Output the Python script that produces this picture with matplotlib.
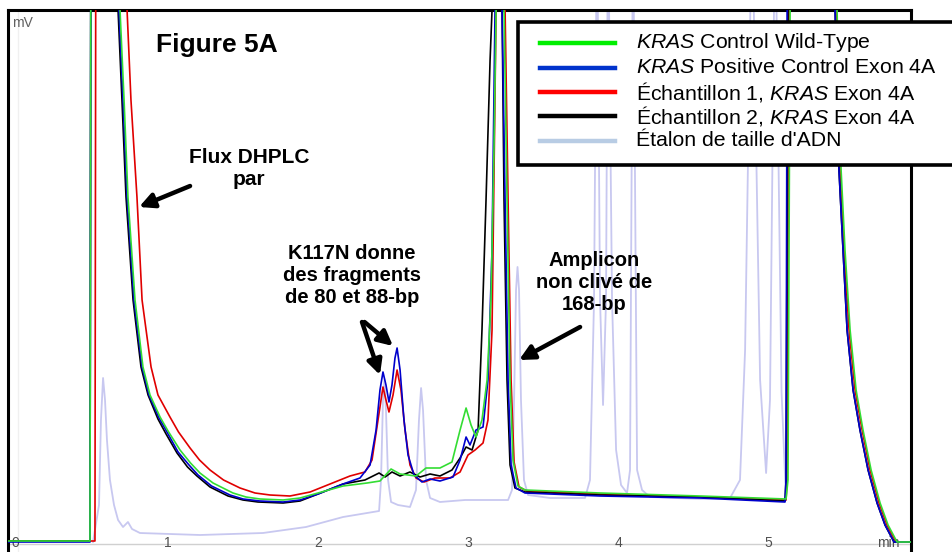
import matplotlib
matplotlib.use("Agg")
import matplotlib.pyplot as plt
from matplotlib.lines import Line2D
from matplotlib.patches import Rectangle

plt.rcParams["font.family"] = ["Liberation Sans", "DejaVu Sans"]
plt.rcParams["mathtext.fontset"] = "custom"
plt.rcParams["mathtext.it"] = "Liberation Sans:italic"
plt.rcParams["mathtext.rm"] = "Liberation Sans"

# retention time (min) and signal (mV)
green_t = [-0.07, 0.48, 0.487, 0.68, 0.707, 0.733, 0.78, 0.833, 0.88, 0.947, 1.0, 1.08, 1.15, 1.213,
           1.3, 1.433, 1.52, 1.613, 1.767, 1.88, 2.0, 2.167, 2.327, 2.413, 2.487, 2.547, 2.653, 2.72,
           2.813, 2.893, 2.947, 2.987, 3.02, 3.053, 3.093, 3.127, 3.153, 3.173, 3.187, 3.207, 3.24,
           3.26, 3.28, 3.3, 3.333, 3.38, 3.88, 4.547, 5.12, 5.133, 5.147, 5.3, 5.46, 5.487, 5.513,
           5.547, 5.587, 5.633, 5.687, 5.747, 5.8, 5.86, 5.96]
green_mv = [0.2, 0.2, 150, 106.4, 88.4, 69.0, 48.4, 35.0, 29.4, 25.0, 22.2, 18.4, 15.8, 13.8,
            11.8, 9.8, 9.0, 8.6, 8.4, 8.8, 9.8, 11.2, 11.8, 12.2, 14.6, 13.6, 13.2, 14.8,
            14.8, 16.0, 22.4, 26.8, 23.4, 21.0, 24.4, 32.4, 48.4, 78.4, 106.4, 128, 106.4,
            68.4, 32.4, 16.4, 11.2, 10.4, 9.8, 9.2, 8.6, 12.4, 106.4, 130, 106.4, 74.4, 58.4,
            42.4, 30.4, 22.4, 14.4, 7.8, 3.4, 0.0, 0.0]

blue_t = [-0.07, 0.48, 0.487, 0.673, 0.7, 0.727, 0.773, 0.827, 0.873, 0.94, 0.993, 1.067, 1.14, 1.2,
          1.29, 1.413, 1.5, 1.613, 1.767, 1.88, 2.0, 2.167, 2.28, 2.347, 2.387, 2.413, 2.433, 2.453,
          2.473, 2.493, 2.513, 2.527, 2.547, 2.573, 2.6, 2.64, 2.693, 2.747, 2.813, 2.9, 2.947,
          2.987, 3.013, 3.053, 3.1, 3.133, 3.16, 3.18, 3.207, 3.227, 3.247, 3.267, 3.287, 3.32,
          3.38, 3.88, 4.547, 5.113, 5.12, 5.127, 5.3, 5.447, 5.473, 5.5, 5.527, 5.567, 5.613,
          5.667, 5.727, 5.78, 5.84, 5.96]
blue_mv = [0.0, 0.0, 150, 106.4, 88.4, 69.0, 48.4, 35.0, 29.4, 24.8, 22.0, 18.0, 15.4, 13.4,
           11.2, 9.4, 8.6, 8.2, 8.0, 8.4, 9.6, 11.6, 12.8, 15.4, 22.4, 30.4, 34.0, 31.4,
           28.0, 31.4, 36.8, 38.8, 34.4, 24.4, 17.4, 13.4, 12.0, 12.6, 12.2, 13.0, 16.4,
           21.0, 19.4, 22.4, 23.0, 32.4, 58.4, 106.4, 128, 106.4, 68.4, 32.4, 15.4, 10.8,
           9.8, 9.2, 8.8, 8.0, 12.4, 106.4, 130, 106.4, 74.4, 58.4, 42.4, 30.4, 22.4,
           14.4, 7.8, 3.4, 0.0, 0.0]

red_t = [-0.07, 0.513, 0.52, 0.727, 0.753, 0.793, 0.827, 0.887, 0.933, 1.013, 1.07, 1.147, 1.21,
         1.28, 1.37, 1.48, 1.58, 1.68, 1.813, 1.947, 2.08, 2.213, 2.313, 2.36, 2.4, 2.433, 2.453,
         2.473, 2.5, 2.527, 2.553, 2.58, 2.613, 2.653, 2.707, 2.78, 2.88, 2.947, 3.0, 3.047, 3.1,
         3.133, 3.16, 3.187, 3.213, 3.247, 3.267, 3.287, 3.307, 3.34, 3.393, 3.88, 4.547, 5.12,
         5.127, 5.14, 5.3, 5.453, 5.48, 5.507, 5.54, 5.58, 5.627, 5.68, 5.74, 5.793, 5.853, 5.96]
red_mv = [0.2, 0.2, 150, 106.4, 88.4, 69.0, 48.4, 35.0, 29.4, 25.0, 22.0, 18.8, 16.4,
          14.4, 12.4, 10.8, 9.8, 9.4, 9.2, 10.0, 11.6, 13.2, 14.0, 16.4, 24.4, 31.0, 28.4,
          26.0, 29.4, 34.4, 30.4, 22.4, 15.4, 12.8, 12.0, 12.8, 12.8, 14.0, 17.4, 18.4, 19.8,
          24.4, 42.4, 106.4, 128, 106.4, 68.4, 32.4, 16.0, 11.0, 10.2, 9.6, 9.0, 8.4,
          12.4, 106.4, 130, 106.4, 74.4, 58.4, 42.4, 30.4, 22.4, 14.4, 7.8, 3.4, 0.0, 0.0]

black_t = [-0.07, 0.48, 0.487, 0.667, 0.693, 0.72, 0.767, 0.82, 0.867, 0.933, 0.987, 1.06, 1.13,
           1.193, 1.28, 1.4, 1.5, 1.6, 1.767, 1.88, 2.0, 2.167, 2.313, 2.407, 2.447, 2.493, 2.547,
           2.613, 2.68, 2.747, 2.813, 2.893, 2.947, 2.987, 3.027, 3.067, 3.093, 3.12, 3.147, 3.16,
           3.2, 3.227, 3.24, 3.26, 3.28, 3.313, 3.38, 3.88, 4.547, 5.113, 5.12, 5.133, 5.3, 5.447,
           5.473, 5.5, 5.527, 5.567, 5.613, 5.667, 5.727, 5.78, 5.84, 5.96]
black_mv = [0.2, 0.2, 150, 106.4, 88.4, 69.0, 48.4, 35.0, 29.4, 24.6, 21.6, 17.8, 15.0,
            13.2, 11.0, 9.2, 8.4, 8.0, 7.8, 8.2, 9.6, 11.6, 12.4, 13.8, 13.0, 14.0, 13.2,
            14.0, 13.0, 13.6, 13.2, 14.4, 16.8, 19.0, 18.4, 22.4, 42.4, 68.4, 96.4, 106.4,
            128, 106.4, 68.4, 32.4, 15.4, 10.8, 10.0, 9.4, 9.0, 8.2, 12.4, 106.4, 130, 106.4,
            74.4, 58.4, 42.4, 30.4, 22.4, 14.4, 7.8, 3.4, 0.0, 0.0]

ladder_t = [0.5, 0.54, 0.553, 0.567, 0.58, 0.593, 0.613, 0.64, 0.667, 0.7, 0.733, 0.76, 0.813,
            1.213, 1.633, 1.92, 2.167, 2.407, 2.42, 2.433, 2.443, 2.453, 2.467, 2.487, 2.533,
            2.613, 2.653, 2.673, 2.687, 2.7, 2.72, 2.747, 2.813, 2.98, 3.267, 3.293, 3.307, 3.32,
            3.33, 3.34, 3.353, 3.373, 3.4, 3.547, 3.78, 3.813, 3.84, 3.86, 3.88, 3.9, 3.92, 3.933,
            3.96, 3.987, 4.02, 4.06, 4.08, 4.1, 4.127, 4.16, 4.213, 4.547, 4.747, 4.813, 4.847,
            4.893, 4.947, 4.987, 5.013, 5.047, 5.09, 5.12]
ladder_mv = [0.0, 7.4, 24.4, 32.8, 28.4, 20.4, 12.4, 7.4, 4.4, 3.0, 4.0, 2.6, 1.8,
             1.4, 1.8, 3.0, 5.0, 6.2, 12.4, 28.4, 32.4, 26.4, 12.4, 8.0, 7.4,
             7.0, 10.4, 24.4, 30.8, 26.4, 12.4, 8.8, 8.0, 8.4, 8.4, 10.4, 28.4, 50.4,
             55.0, 50.4, 28.4, 12.4, 9.4, 8.8, 8.8, 12.4, 48.4, 128, 48.4, 27.4, 48.4, 128,
             48.4, 18.4, 11.4, 9.8, 14.4, 128, 14.4, 10.4, 9.0, 8.6, 8.8, 12.4, 38.4,
             128, 32.4, 13.8, 28.4, 128, 30.0, 8.4]

tick_values = [0, 1, 2, 3, 4, 5]
legend_labels = [
    r"$\mathit{KRAS}$ Control Wild-Type",
    r"$\mathit{KRAS}$ Positive Control Exon 4A",
    r"Échantillon 1, $\mathit{KRAS}$ Exon 4A",
    r"Échantillon 2, $\mathit{KRAS}$ Exon 4A",
    "Étalon de taille d'ADN",
]
legend_colors = ["#00ee00", "#0033cc", "#ff0000", "#000000", "#b8cce4"]

W, H = 953, 552


def fx(x):
    return x / W


def fy(y):
    return 1 - y / H


fig = plt.figure(figsize=(W / 100, H / 100), dpi=100)
ax = fig.add_axes([fx(8), -20 / H, (911 - 8) / W, 562 / H])
ax.set_xlim(-0.0667, 5.953)
ax.set_ylim(-6, 106.4)
ax.set_xticks([])
ax.set_yticks([])
for side in ["top", "left", "right"]:
    ax.spines[side].set_linewidth(2.2)
ax.spines["bottom"].set_visible(False)

# light axis lines of the instrument software
ax.axhline(-0.3, color="#d0d0d0", lw=1, zorder=1)
ax.axvline(0.0, color="#f0f0f0", lw=1, zorder=1)

ax.plot(ladder_t, ladder_mv, color="#c8c8f0", lw=1.3, zorder=2)
ax.plot(red_t, red_mv, color="#e00000", lw=1.2, zorder=3)
ax.plot(black_t, black_mv, color="#000000", lw=1.2, zorder=4)
ax.plot(blue_t, blue_mv, color="#0000cc", lw=1.2, zorder=5)
ax.plot(green_t, green_mv, color="#33dd33", lw=1.2, zorder=6)

# time labels sit on the lower edge of the picture
for value in tick_values:
    ax.text(value - (0.02 if value == 0 else 0), -1.0, str(value), ha="center",
            va="baseline", fontsize=10, color="#505050")
ax.text(5.8, -1.0, "min", ha="center", va="baseline", fontsize=10, color="#505050")
ax.text(fx(12), fy(23), "mV", transform=fig.transFigure, ha="left", va="center",
        fontsize=10, color="#606060")

bold = dict(fontsize=14.5, fontweight="bold", ha="center", va="center", linespacing=1.2)
arrow = dict(arrowstyle="-|>", lw=3.2, color="black", mutation_scale=22,
             shrinkA=0, shrinkB=0)

ax.text(1.327, 99.4, "Figure 5A", fontsize=19, fontweight="bold", ha="center", va="center")
ax.text(1.54, 74.8, "Flux DHPLC\npar", fontsize=15, fontweight="bold", ha="center",
        va="center", linespacing=1.2)
ax.annotate("", xy=(0.807, 67.0), xytext=(1.147, 71.2), arrowprops=arrow)

ax.text(2.227, 53.4, "K117N donne\ndes fragments\nde 80 et 88-bp", **bold)
ax.annotate("", xy=(2.413, 33.4), xytext=(2.293, 44.0), arrowprops=arrow)
ax.annotate("", xy=(2.5, 39.2), xytext=(2.31, 44.0), arrowprops=arrow)

ax.text(3.84, 52.0, "Amplicon\nnon clivé de\n168-bp", **bold)
ax.annotate("", xy=(3.34, 36.4), xytext=(3.747, 43.0), arrowprops=arrow)

# legend box, drawn in figure pixels so it can run past the right edge
box = Rectangle((fx(518), fy(165)), fx(960) - fx(518), fy(22) - fy(165),
                transform=fig.transFigure, facecolor="white", edgecolor="black",
                lw=2.6, zorder=20)
fig.add_artist(box)
rows = [43, 67.5, 92, 116, 141]
for label, color, y in zip(legend_labels, legend_colors, rows):
    fig.add_artist(Line2D([fx(540), fx(615)], [fy(y), fy(y)], color=color, lw=3.2,
                          transform=fig.transFigure, zorder=21))
    fig.text(fx(636), fy(y), label, ha="left", va="center", fontsize=15.3, zorder=21)

fig.savefig("out.png", dpi=100)
